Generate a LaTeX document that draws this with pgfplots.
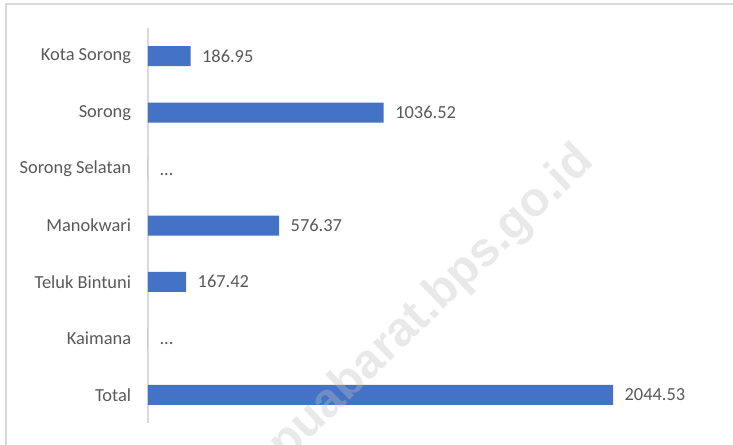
\documentclass[border=0pt]{standalone}
\usepackage{pgfplots}
\usepackage{pgfplotstable}
\pgfplotsset{compat=1.18}
\usepackage{fontspec}
\setmainfont{Carlito}
\newfontfamily\wmfont{Liberation Sans}

\definecolor{barblue}{HTML}{4472C4}
\definecolor{txtgray}{HTML}{595959}
\definecolor{linegray}{HTML}{D9D9D9}
\definecolor{wmgray}{HTML}{C0C0C0}

% one row per category, top to bottom
\pgfplotstableread{
idx val lab
0 186.95 186.95
1 1036.52 1036.52
2 0 ...
3 576.37 576.37
4 167.42 167.42
5 0 ...
6 2044.53 2044.53
}\datatable

\begin{document}
\begin{tikzpicture}
\useasboundingbox (0,0) rectangle (549.75pt,333pt);
\clip (0,0) rectangle (549.75pt,333pt);
% chart frame
\draw[linegray, line width=1.1pt] (4.5pt,-5pt) -- (4.5pt,330pt) -- (560pt,330pt);
\begin{axis}[
  at={(111pt,15.75pt)}, anchor=south west,
  scale only axis,
  width=429pt, height=296.25pt,
  xbar, bar width=15pt, bar shift=0pt,
  xmin=0, xmax=2515,
  ymin=-0.5, ymax=6.5,
  y dir=reverse,
  axis x line=none,
  axis y line*=left,
  y axis line style={linegray, line width=0.8pt, -},
  ytick={0,...,6},
  yticklabels={Kota Sorong, Sorong, Sorong Selatan, Manokwari, Teluk Bintuni, Kaimana, Total},
  major tick length=0pt,
  yticklabel style={font=\fontsize{13.8}{16}\selectfont, text=txtgray, anchor=east, inner sep=0pt, xshift=-12.5pt},
  point meta=explicit symbolic,
  nodes near coords,
  nodes near coords style={font=\fontsize{13.8}{16}\selectfont, text=txtgray, anchor=west, inner sep=0pt, xshift=8.5pt, text height=9pt, text depth=0pt},
  clip=false,
]
\addplot[fill=barblue, draw=none] table[x=val, y=idx, meta=lab] {\datatable};
\end{axis}
% watermark
\node[anchor=base west, rotate=44, inner sep=0pt, text=wmgray, opacity=0.35,
  font=\wmfont\bfseries\fontsize{36}{40}\selectfont] at (184.5pt,-42.75pt) {papuabarat.bps.go.id};
\end{tikzpicture}
\end{document}
